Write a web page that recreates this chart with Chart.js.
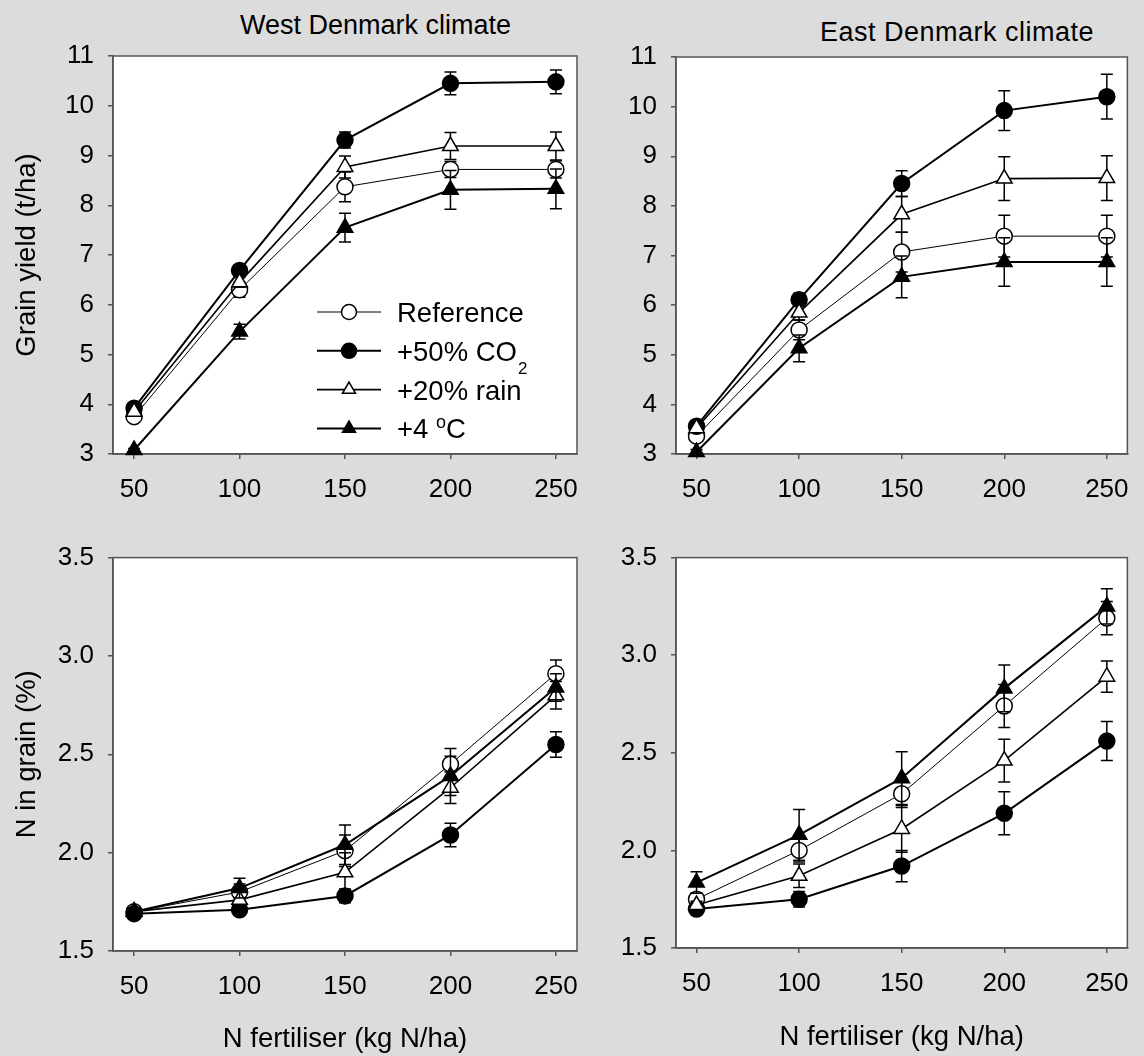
<!DOCTYPE html>
<html>
<head>
<meta charset="utf-8">
<script src="https://cdn.jsdelivr.net/npm/chart.js@4.4.1/dist/chart.umd.min.js"></script>
<style>
  body { margin: 0; background: #dcdcdc; }
  #wrap { position: relative; width: 1144px; height: 1056px; background: #dcdcdc; overflow: hidden;
          font-family: "Liberation Sans", Arial, sans-serif; }
  canvas { position: absolute; }
  .ptitle { position: absolute; font-size: 27px; line-height: 30px; color: #000; white-space: nowrap; }
</style>
</head>
<body>
<div id="wrap">
  <div class="ptitle" style="left:240px; top:10px">West Denmark climate</div>
  <div class="ptitle" style="left:820px; top:17px; letter-spacing:0.5px">East Denmark climate</div>
  <canvas id="westYield" width="600" height="528" style="left:0; top:0"></canvas>
  <canvas id="eastYield" width="544" height="528" style="left:600px; top:0"></canvas>
  <canvas id="westN" width="600" height="528" style="left:0; top:528px"></canvas>
  <canvas id="eastN" width="544" height="528" style="left:600px; top:528px"></canvas>
</div>
<script>
// x values (N fertiliser, kg N/ha) and tick labels
const nRates = [50, 100, 150, 200, 250];
const xTicks = [50, 100, 150, 200, 250];
const yieldTicks = [3, 4, 5, 6, 7, 8, 9, 10, 11];
const nGrainTicks = [1.5, 2.0, 2.5, 3.0, 3.5];

// legend text, split in pieces for sub/superscripts
const seriesLabels = [
  [['Reference']],
  [['+50% CO'], ['2', 'sub']],
  [['+20% rain']],
  [['+4 '], ['o', 'sup'], ['C']]
];

// West Denmark - grain yield (t/ha)
const westYieldRef = [3.75, 6.30, 8.37, 8.72, 8.72];
const westYieldRefErr = [0.05, 0.15, 0.30, 0.16, 0.17];
const westYieldCO2 = [3.92, 6.69, 9.31, 10.45, 10.48];
const westYieldCO2Err = [0.05, 0.07, 0.16, 0.23, 0.24];
const westYieldRain = [3.85, 6.45, 8.77, 9.19, 9.19];
const westYieldRainErr = [0.05, 0.10, 0.22, 0.27, 0.28];
const westYield4C = [3.08, 5.46, 7.55, 8.31, 8.33];
const westYield4CErr = [0.03, 0.15, 0.29, 0.39, 0.40];

// East Denmark - grain yield (t/ha)
const eastYieldRef = [3.36, 5.50, 7.07, 7.39, 7.39];
const eastYieldRefErr = [0.05, 0.20, 0.40, 0.42, 0.42];
const eastYieldCO2 = [3.56, 6.11, 8.45, 9.92, 10.20];
const eastYieldCO2Err = [0.05, 0.13, 0.26, 0.40, 0.45];
const eastYieldRain = [3.52, 5.85, 7.83, 8.55, 8.56];
const eastYieldRainErr = [0.05, 0.15, 0.36, 0.44, 0.45];
const eastYield4C = [3.04, 5.13, 6.57, 6.87, 6.87];
const eastYield4CErr = [0.05, 0.27, 0.42, 0.49, 0.49];

// West Denmark - N in grain (%)
const westNRef = [1.70, 1.80, 2.01, 2.45, 2.91];
const westNRefErr = [0.02, 0.04, 0.08, 0.08, 0.07];
const westNCO2 = [1.69, 1.71, 1.78, 2.09, 2.55];
const westNCO2Err = [0.02, 0.02, 0.035, 0.06, 0.065];
const westNRain = [1.70, 1.76, 1.90, 2.33, 2.80];
const westNRainErr = [0.02, 0.04, 0.10, 0.08, 0.07];
const westN4C = [1.70, 1.82, 2.04, 2.39, 2.84];
const westN4CErr = [0.02, 0.05, 0.10, 0.10, 0.07];

// East Denmark - N in grain (%)
const eastNRef = [1.75, 2.00, 2.29, 2.74, 3.19];
const eastNRefErr = [0.03, 0.06, 0.07, 0.11, 0.085];
const eastNCO2 = [1.70, 1.75, 1.92, 2.19, 2.56];
const eastNCO2Err = [0.02, 0.04, 0.08, 0.11, 0.10];
const eastNRain = [1.72, 1.87, 2.11, 2.46, 2.89];
const eastNRainErr = [0.02, 0.06, 0.12, 0.11, 0.08];
const eastN4C = [1.835, 2.08, 2.37, 2.83, 3.25];
const eastN4CErr = [0.055, 0.13, 0.135, 0.12, 0.09];

const FONT = '"Liberation Sans", Arial, sans-serif';
const AXIS_COLOR = '#555';

// marker / line look of the four series (same order as seriesLabels)
const seriesStyle = [
  { pointStyle: 'circle',   fill: '#fff', lineWidth: 1,   radius: 8 },
  { pointStyle: 'circle',   fill: '#000', lineWidth: 2,   radius: 8 },
  { pointStyle: 'triangle', fill: '#fff', lineWidth: 1.6, radius: 9 },
  { pointStyle: 'triangle', fill: '#000', lineWidth: 2,   radius: 9 }
];

// white plot area + box frame
const framePlugin = {
  id: 'frame',
  beforeDraw(chart) {
    const { ctx, chartArea: a } = chart;
    ctx.save();
    ctx.fillStyle = '#fff';
    ctx.fillRect(a.left, a.top, a.right - a.left, a.bottom - a.top);
    ctx.restore();
  },
  beforeDatasetsDraw(chart) {
    const { ctx, chartArea: a } = chart;
    ctx.save();
    ctx.strokeStyle = AXIS_COLOR;
    ctx.lineWidth = 1.5;
    ctx.strokeRect(a.left, a.top, a.right - a.left, a.bottom - a.top);
    ctx.restore();
  }
};

// vertical error bars, drawn just before each dataset's line and markers
const errorBarPlugin = {
  id: 'errorBars',
  beforeDatasetDraw(chart, args) {
    const ds = chart.data.datasets[args.index];
    if (!ds.errors) return;
    const { ctx } = chart;
    const yScale = chart.scales.y;
    ctx.save();
    ctx.strokeStyle = '#000';
    ctx.lineWidth = 1.5;
    args.meta.data.forEach((pt, i) => {
      const v = ds.data[i].y;
      const e = ds.errors[i];
      const yTop = yScale.getPixelForValue(v + e);
      const yBot = yScale.getPixelForValue(v - e);
      ctx.beginPath();
      ctx.moveTo(pt.x, yTop); ctx.lineTo(pt.x, yBot);
      ctx.moveTo(pt.x - 6, yTop); ctx.lineTo(pt.x + 6, yTop);
      ctx.moveTo(pt.x - 6, yBot); ctx.lineTo(pt.x + 6, yBot);
      ctx.stroke();
    });
    ctx.restore();
  }
};

// legend inside the top-left panel
const insetLegendPlugin = {
  id: 'insetLegend',
  afterDraw(chart) {
    const { ctx, chartArea: a } = chart;
    const x0 = a.left + 204, x1 = a.left + 268, xm = (x0 + x1) / 2;
    const xText = a.left + 284;
    ctx.save();
    seriesLabels.forEach((parts, i) => {
      const y = a.top + 256 + i * 38.8;
      const st = seriesStyle[i];
      ctx.strokeStyle = '#000';
      ctx.lineWidth = st.lineWidth;
      ctx.beginPath();
      ctx.moveTo(x0, y); ctx.lineTo(x1, y);
      ctx.stroke();
      ctx.fillStyle = st.fill;
      ctx.lineWidth = 1.5;
      Chart.helpers.drawPoint(ctx, {
        pointStyle: st.pointStyle,
        radius: 7.5,
        borderWidth: 1.5,
        rotation: 0
      }, xm, y);

      let x = xText;
      const base = y + 10;
      ctx.fillStyle = '#000';
      ctx.textBaseline = 'alphabetic';
      ctx.textAlign = 'left';
      parts.forEach(([txt, kind]) => {
        let yy = base;
        if (kind === 'sub') { ctx.font = '17px ' + FONT; yy = base + 13; x += 1; }
        else if (kind === 'sup') { ctx.font = '18px ' + FONT; yy = base - 10; }
        else ctx.font = '27.5px ' + FONT;
        ctx.fillText(txt, x, yy);
        x += ctx.measureText(txt).width;
      });
    });
    ctx.restore();
  }
};

function makeDatasets(series) {
  return series.map((s, i) => {
    const st = seriesStyle[i];
    return {
      label: s.name,
      data: nRates.map((x, k) => ({ x, y: s.values[k] })),
      errors: s.errors,
      borderColor: '#000',
      borderWidth: st.lineWidth,
      pointStyle: st.pointStyle,
      pointRadius: st.radius,
      pointBackgroundColor: st.fill,
      pointBorderColor: '#000',
      pointBorderWidth: 1.5,
      tension: 0,
      fill: false,
      clip: false,
      order: 4 - i
    };
  });
}

function makePanel(id, series, cfg) {
  const tickFont = { family: FONT, size: 26 };
  const titleFont = { family: FONT, size: 27.5 };
  const plugins = [framePlugin, errorBarPlugin];
  if (cfg.legend) plugins.push(insetLegendPlugin);
  return new Chart(document.getElementById(id), {
    type: 'line',
    data: { datasets: makeDatasets(series) },
    plugins,
    options: {
      responsive: false,
      animation: false,
      devicePixelRatio: 1,
      layout: { padding: { top: cfg.padTop, right: cfg.padRight, left: 0, bottom: 0 } },
      plugins: { legend: { display: false }, tooltip: { enabled: false } },
      scales: {
        x: {
          type: 'linear',
          min: 40,
          max: 260,
          afterBuildTicks: (scale) => { scale.ticks = xTicks.map(v => ({ value: v })); },
          afterFit: (scale) => { scale.height = cfg.xHeight; },
          ticks: { font: tickFont, color: '#000', padding: 15, maxRotation: 0, autoSkip: false },
          grid: { drawOnChartArea: false, drawTicks: true, tickLength: 5, color: AXIS_COLOR, lineWidth: 1.5 },
          border: { display: true, color: AXIS_COLOR, width: 1.5 },
          title: {
            display: !!cfg.xTitle,
            text: cfg.xTitle || '',
            font: titleFont,
            color: '#000',
            padding: { top: 0, bottom: cfg.xTitlePad || 0 }
          }
        },
        y: {
          type: 'linear',
          min: cfg.yTicks[0],
          max: cfg.yTicks[cfg.yTicks.length - 1],
          afterBuildTicks: (scale) => { scale.ticks = cfg.yTicks.map(v => ({ value: v })); },
          afterFit: (scale) => { scale.width = cfg.yWidth; },
          ticks: {
            font: tickFont, color: '#000', padding: 14, autoSkip: false,
            callback: (v) => v.toFixed(cfg.decimals)
          },
          grid: { drawOnChartArea: false, drawTicks: true, tickLength: 5, color: AXIS_COLOR, lineWidth: 1.5 },
          border: { display: true, color: AXIS_COLOR, width: 1.5 },
          title: {
            display: !!cfg.yTitle,
            text: cfg.yTitle || '',
            font: titleFont,
            color: '#000',
            padding: { top: 11, bottom: 0 }
          }
        }
      }
    }
  });
}

const names = ['Reference', '+50% CO2', '+20% rain', '+4 oC'];

makePanel('westYield', [
  { name: names[0], values: westYieldRef, errors: westYieldRefErr },
  { name: names[1], values: westYieldCO2, errors: westYieldCO2Err },
  { name: names[2], values: westYieldRain, errors: westYieldRainErr },
  { name: names[3], values: westYield4C, errors: westYield4CErr }
], { yTicks: yieldTicks, decimals: 0, yTitle: 'Grain yield (t/ha)', yWidth: 113,
     padTop: 56, padRight: 23, xHeight: 74, legend: true });

makePanel('eastYield', [
  { name: names[0], values: eastYieldRef, errors: eastYieldRefErr },
  { name: names[1], values: eastYieldCO2, errors: eastYieldCO2Err },
  { name: names[2], values: eastYieldRain, errors: eastYieldRainErr },
  { name: names[3], values: eastYield4C, errors: eastYield4CErr }
], { yTicks: yieldTicks, decimals: 0, yWidth: 76, padTop: 57, padRight: 5, xHeight: 74 });

makePanel('westN', [
  { name: names[0], values: westNRef, errors: westNRefErr },
  { name: names[1], values: westNCO2, errors: westNCO2Err },
  { name: names[2], values: westNRain, errors: westNRainErr },
  { name: names[3], values: westN4C, errors: westN4CErr }
], { yTicks: nGrainTicks, decimals: 1, yTitle: 'N in grain (%)', yWidth: 113,
     padTop: 25, padRight: 23, xHeight: 105, xTitle: 'N fertiliser (kg N/ha)', xTitlePad: 0 });

makePanel('eastN', [
  { name: names[0], values: eastNRef, errors: eastNRefErr },
  { name: names[1], values: eastNCO2, errors: eastNCO2Err },
  { name: names[2], values: eastNRain, errors: eastNRainErr },
  { name: names[3], values: eastN4C, errors: eastN4CErr }
], { yTicks: nGrainTicks, decimals: 1, yWidth: 76, padTop: 24, padRight: 5, xHeight: 108,
     xTitle: 'N fertiliser (kg N/ha)', xTitlePad: 2 });
</script>
</body>
</html>
